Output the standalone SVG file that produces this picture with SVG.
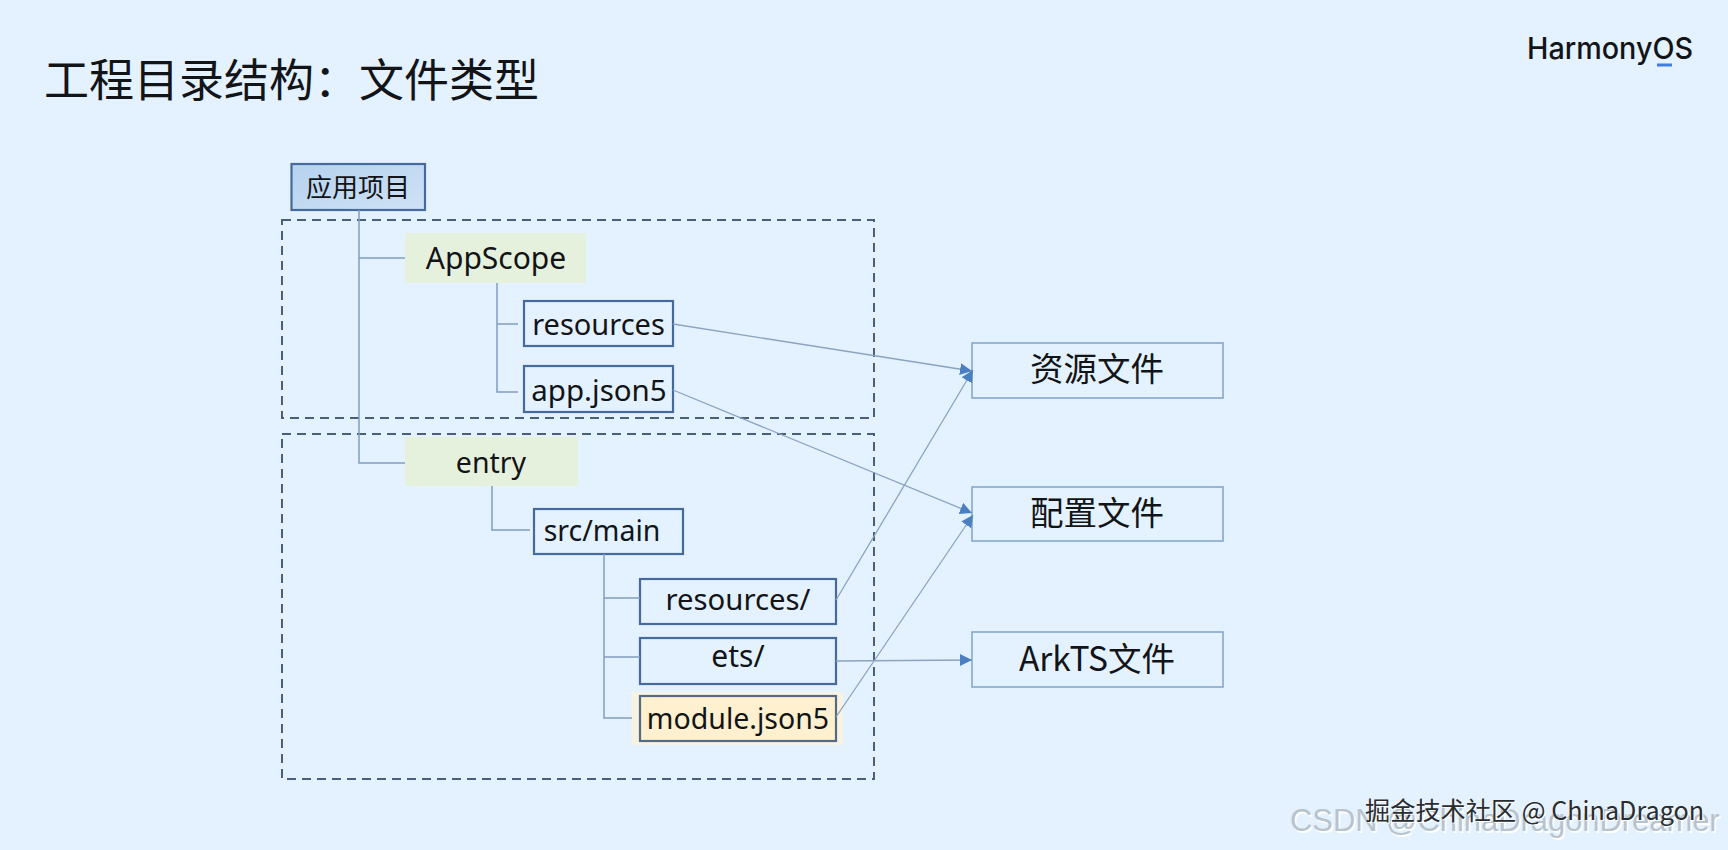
<svg xmlns="http://www.w3.org/2000/svg" width="1728" height="850" viewBox="0 0 1728 850">
<style>
text{font-family:"Noto Sans","Noto Sans CJK SC",sans-serif;fill:#121417;text-anchor:middle}
.cjk{font-family:"Noto Sans CJK SC","Noto Sans",sans-serif}
.box{fill:none;stroke:#456a9b;stroke-width:2.2}
.out{fill:none;stroke:#7fa2c8;stroke-width:1.5}
.dash{fill:none;stroke:#4a5f7c;stroke-width:2;stroke-dasharray:9 6}
.tree{fill:none;stroke:#7f9dc0;stroke-width:1.5}
.arrow{fill:none;stroke:#8aa3bf;stroke-width:1.3;marker-end:url(#head)}
</style>
<defs>
<marker id="head" markerUnits="userSpaceOnUse" markerWidth="13" markerHeight="13" refX="12" refY="6" orient="auto"><path d="M0 0L12 6L0 12Z" fill="#4a7fc1"/></marker>
<linearGradient id="hdr" x1="0" y1="0" x2="1" y2="1"><stop offset="0" stop-color="#b5d2ef"/><stop offset="1" stop-color="#cfe2f5"/></linearGradient>
</defs>
<rect width="1728" height="850" fill="#e4f2ff"/>
<text id="title" class="cjk" x="44" y="97" font-size="45" style="text-anchor:start">工程目录结构：文件类型</text>
<g id="logo">
<text x="1527" y="59" font-size="30" font-weight="500" style="text-anchor:start;font-family:Inter,'Noto Sans',sans-serif" textLength="166" lengthAdjust="spacingAndGlyphs">HarmonyOS</text>
<rect x="1657" y="63.5" width="15" height="3" fill="#3f7fe0"/>
</g>
<rect id="group-appscope" class="dash" x="282" y="220" width="592" height="198"/>
<rect id="group-entry" class="dash" x="282" y="434" width="592" height="345"/>
<g id="node-app"><rect x="291.5" y="164" width="133.5" height="46" fill="url(#hdr)" stroke="#456a9b" stroke-width="2.2"/><text class="cjk" x="358" y="197" font-size="26">应用项目</text></g>
<g id="node-appscope"><rect x="405" y="233" width="181" height="50" fill="#e6f1dd"/><text x="496" y="269" font-size="30">AppScope</text></g>
<g id="node-resources"><rect class="box" x="524" y="301" width="149" height="45"/><text x="598.5" y="335" font-size="29">resources</text></g>
<g id="node-appjson"><rect class="box" x="524" y="366" width="149" height="46"/><text x="599" y="401" font-size="29.5">app.json5</text></g>
<g id="node-entry"><rect x="405" y="437" width="173" height="49" fill="#e6f1dd"/><text x="491" y="473" font-size="28.5">entry</text></g>
<g id="node-srcmain"><rect class="box" x="534" y="509" width="149" height="45"/><text x="602" y="541" font-size="28.5">src/main</text></g>
<g id="node-res2"><rect class="box" x="640" y="579" width="196" height="45"/><text x="738" y="610" font-size="29.3">resources/</text></g>
<g id="node-ets"><rect class="box" x="640" y="638" width="196" height="46"/><text x="738" y="667" font-size="30">ets/</text></g>
<g id="node-module"><rect x="632" y="692" width="211" height="53" fill="#f7f2e2"/><rect x="640" y="696" width="196" height="45" fill="#fff0cf" stroke="#556b85" stroke-width="2.2"/><text x="738" y="729" font-size="28.5">module.json5</text></g>
<g id="node-resfile"><rect class="out" x="972" y="343" width="251" height="55"/><text class="cjk" x="1097" y="381" font-size="33.5">资源文件</text></g>
<g id="node-cfgfile"><rect class="out" x="972" y="487" width="251" height="54"/><text class="cjk" x="1097" y="525" font-size="33.5">配置文件</text></g>
<g id="node-arkts"><rect class="out" x="972" y="632" width="251" height="55"/><text class="cjk" x="1097" y="671" font-size="33.5">ArkTS文件</text></g>
<g id="connectors">
<path class="tree" d="M359 210V463H405M359 258H405"/>
<path class="tree" d="M497 283V392H518M497 324H518"/>
<path class="tree" d="M492 486V530H530"/>
<path class="tree" d="M604 554V718H632M604 598H640M604 657H640"/>
<line class="arrow" x1="673" y1="324" x2="972" y2="371"/>
<line class="arrow" x1="673" y1="390" x2="972" y2="513"/>
<line class="arrow" x1="836" y1="600" x2="973" y2="370"/>
<line class="arrow" x1="836" y1="661" x2="972" y2="660"/>
<line class="arrow" x1="836" y1="717" x2="973" y2="515"/>
</g>
<g id="watermark-csdn">
<text x="1291.5" y="832.5" font-size="30.9" style="text-anchor:start;font-family:'Liberation Sans',sans-serif;fill:#ffffff">CSDN @ChinaDragonDreamer</text>
<text x="1290" y="831" font-size="30.9" style="text-anchor:start;font-family:'Liberation Sans',sans-serif;fill:#b9c3cc">CSDN @ChinaDragonDreamer</text>
</g>
<g id="watermark-juejin">
<text x="1366" y="821" font-size="25.2" class="cjk" style="text-anchor:start;fill:#ffffff">掘金技术社区 @ ChinaDragon</text>
<text x="1365" y="820" font-size="25.2" class="cjk" style="text-anchor:start;fill:#2a2d30">掘金技术社区 @ ChinaDragon</text>
</g>
</svg>
